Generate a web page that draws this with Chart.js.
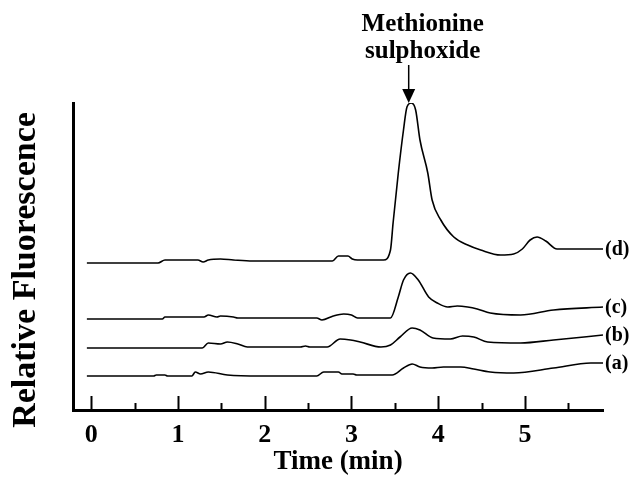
<!DOCTYPE html>
<html>
<head>
<meta charset="utf-8">
<script src="https://cdn.jsdelivr.net/npm/chart.js@4/dist/chart.umd.min.js"></script>
<style>
  html, body { margin: 0; padding: 0; background: #fff; }
</style>
</head>
<body>
<canvas id="chart" width="631" height="480"></canvas>
<script>
// time axis (min) and signals (relative units)
const tickValues = [0, 1, 2, 3, 4, 5];
const minorTicks = [0.5, 1.5, 2.5, 3.5, 4.5, 5.5];

const timeD = [-0.05, 0.77, 0.85, 1.23, 1.29, 1.35, 1.49, 1.64, 1.86, 2.78, 2.85, 2.96, 3.01, 3.07, 3.37, 3.45, 3.48, 3.54, 3.60, 3.64, 3.69, 3.74, 3.79, 3.88, 3.93, 4.03, 4.18, 4.34, 4.49, 4.72, 4.87, 4.97, 5.06, 5.14, 5.24, 5.37, 5.9];
const sigD  = [147, 147, 150, 150, 148, 150, 151, 150, 149, 149, 154, 154, 151, 150, 150, 160, 187, 237, 280, 303, 307, 300, 270, 237, 210, 190, 173, 165, 160, 155, 156, 161, 170, 173, 169, 161, 161];

const timeC = [-0.05, 0.82, 0.85, 1.30, 1.35, 1.45, 1.49, 1.64, 1.69, 2.60, 2.66, 2.79, 2.91, 3.00, 3.07, 3.45, 3.54, 3.60, 3.68, 3.77, 3.89, 3.99, 4.11, 4.22, 4.34, 4.45, 4.60, 4.95, 5.33, 5.9];
const sigC  = [91, 91, 93, 93, 95, 93, 94, 93, 92, 92, 90, 94, 96, 95, 92, 92, 113, 130, 137, 130, 113, 107, 103, 104, 103, 101, 97, 95, 100, 103];

const timeB = [-0.05, 1.28, 1.35, 1.49, 1.57, 1.69, 1.80, 2.41, 2.47, 2.52, 2.72, 2.87, 2.99, 3.10, 3.34, 3.45, 3.56, 3.70, 3.79, 3.94, 4.14, 4.28, 4.41, 4.57, 4.95, 5.33, 5.9];
const sigB  = [62, 62, 67, 66, 68, 66, 63, 63, 64, 63, 63, 71, 70, 68, 63, 65, 73, 82, 80, 72, 71, 74, 73, 68, 67, 70, 75];

const timeA = [-0.05, 0.72, 0.75, 0.85, 0.88, 1.16, 1.20, 1.26, 1.35, 1.57, 1.95, 2.60, 2.68, 2.85, 2.89, 3.02, 3.06, 3.47, 3.60, 3.70, 3.79, 3.93, 4.06, 4.26, 4.41, 4.60, 4.87, 5.33, 5.76, 5.9];
const sigA  = [34, 34, 35, 35, 34, 34, 38, 36, 38, 35, 34, 34, 38, 38, 36, 36, 35, 35, 42, 46, 43, 42, 43, 43, 41, 38, 37, 42, 47, 47];

const traceNames = ['(d)', '(c)', '(b)', '(a)'];
const peakTime = 3.66;

const serif = '"Liberation Serif", "Times New Roman", serif';

function pts(xs, ys) {
    return xs.map((x, i) => ({ x: x, y: ys[i] }));
}

const decorations = {
    id: 'decorations',
    afterDraw(chart) {
        const ctx = chart.ctx;
        const xs = chart.scales.x;
        const area = chart.chartArea;
        ctx.save();
        ctx.strokeStyle = '#000';
        ctx.fillStyle = '#000';

        // inward tick marks
        ctx.lineWidth = 2;
        tickValues.forEach(v => {
            const px = Math.round(xs.getPixelForValue(v)) + 0.5;
            ctx.beginPath();
            ctx.moveTo(px, area.bottom);
            ctx.lineTo(px, area.bottom - 14);
            ctx.stroke();
        });
        minorTicks.forEach(v => {
            const px = Math.round(xs.getPixelForValue(v)) + 0.5;
            ctx.beginPath();
            ctx.moveTo(px, area.bottom);
            ctx.lineTo(px, area.bottom - 7);
            ctx.stroke();
        });

        // trace labels at the right end of each line
        ctx.font = 'bold 20px ' + serif;
        ctx.textAlign = 'left';
        ctx.textBaseline = 'middle';
        chart.data.datasets.forEach((ds, i) => {
            const meta = chart.getDatasetMeta(i);
            const last = meta.data[meta.data.length - 1];
            ctx.fillText(traceNames[i], last.x + 2, last.y + 1);
        });

        // peak annotation
        const ax = xs.getPixelForValue(peakTime);
        ctx.font = 'bold 25px ' + serif;
        ctx.textAlign = 'center';
        ctx.textBaseline = 'alphabetic';
        ctx.fillText('Methionine', ax + 14, 31);
        ctx.fillText('sulphoxide', ax + 14, 58);
        ctx.lineWidth = 1.5;
        ctx.beginPath();
        ctx.moveTo(ax, 65);
        ctx.lineTo(ax, 91);
        ctx.stroke();
        ctx.beginPath();
        ctx.moveTo(ax - 6.5, 89);
        ctx.lineTo(ax + 6.5, 89);
        ctx.lineTo(ax, 103);
        ctx.closePath();
        ctx.fill();

        // y axis title
        ctx.translate(26, 270);
        ctx.rotate(-Math.PI / 2);
        ctx.font = 'bold 34px ' + serif;
        ctx.textAlign = 'center';
        ctx.textBaseline = 'middle';
        ctx.fillText('Relative Fluorescence', 0, 0);
        ctx.restore();
    }
};

const lineStyle = {
    borderColor: '#000',
    borderWidth: 1.6,
    pointRadius: 0,
    cubicInterpolationMode: 'monotone',
    fill: false
};

new Chart(document.getElementById('chart'), {
    type: 'line',
    data: {
        datasets: [
            Object.assign({ label: traceNames[0], data: pts(timeD, sigD) }, lineStyle),
            Object.assign({ label: traceNames[1], data: pts(timeC, sigC) }, lineStyle),
            Object.assign({ label: traceNames[2], data: pts(timeB, sigB) }, lineStyle),
            Object.assign({ label: traceNames[3], data: pts(timeA, sigA) }, lineStyle)
        ]
    },
    options: {
        responsive: false,
        animation: false,
        layout: { padding: { left: 33, right: 28, top: 103, bottom: 0 } },
        plugins: {
            legend: { display: false },
            tooltip: { enabled: false }
        },
        scales: {
            x: {
                type: 'linear',
                min: -0.21,
                max: 5.9,
                afterBuildTicks: scale => {
                    scale.ticks = tickValues.map(v => ({ value: v }));
                },
                afterFit: scale => { scale.height = 70; },
                grid: { display: false, drawTicks: false },
                border: { display: true, color: '#000', width: 3 },
                ticks: {
                    color: '#000',
                    padding: 10,
                    maxRotation: 0,
                    font: { family: serif, size: 26, weight: 'bold' },
                    callback: v => String(v)
                },
                title: {
                    display: true,
                    text: 'Time (min)',
                    color: '#000',
                    font: { family: serif, size: 27, weight: 'bold' },
                    padding: { top: 0, bottom: 2 }
                }
            },
            y: {
                min: 0,
                max: 307,
                afterFit: scale => { scale.width = 40; },
                grid: { display: false, drawTicks: false },
                border: { display: true, color: '#000', width: 3 },
                ticks: { display: false }
            }
        }
    },
    plugins: [decorations]
});
</script>
</body>
</html>
